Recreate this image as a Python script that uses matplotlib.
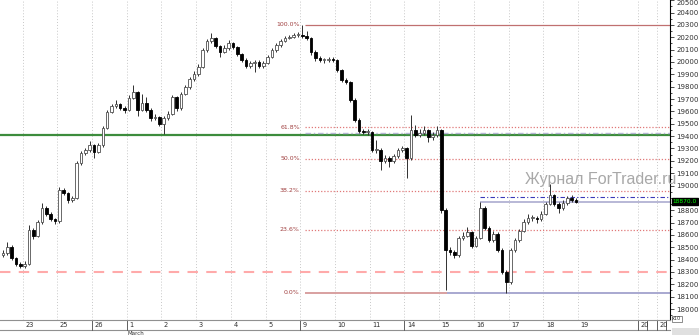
import matplotlib
matplotlib.use("Agg")
import matplotlib.pyplot as plt
from matplotlib.patches import Rectangle
from matplotlib.ticker import MultipleLocator

# candle data (open = previous close)
first_open = 18440
closes = [
    18454, 18502, 18413, 18365, 18349, 18365, 18640, 18592, 18705, 18818,
    18770, 18729, 18713, 18964, 18940, 18883, 18899, 19183, 19264, 19288,
    19328, 19272, 19328, 19466, 19596, 19644, 19660, 19628, 19612, 19709,
    19757, 19612, 19668, 19612, 19547, 19555, 19498, 19547, 19579, 19717,
    19628, 19741, 19798, 19863, 19903, 19960, 20098, 20170, 20195, 20130,
    20081, 20114, 20154, 20122, 20065, 20017, 19968, 19992, 20000, 19968,
    19992, 20041, 20098, 20138, 20170, 20195, 20203, 20219, 20219, 20211,
    20195, 20081, 20033, 20017, 20017, 20025, 20017, 19935, 19855, 19838,
    19693, 19531, 19442, 19434, 19434, 19288, 19288, 19199, 19223, 19199,
    19239, 19288, 19304, 19223, 19450, 19409, 19426, 19450, 19393, 19409,
    19450, 18802, 18478, 18462, 18438, 18575, 18592, 18624, 18511, 18575,
    18818, 18656, 18559, 18608, 18478, 18300, 18219, 18478, 18559, 18632,
    18705, 18737, 18737, 18729, 18770, 18851, 18924, 18851, 18818, 18859,
    18899, 18883, 18870]
highs = [
    18480, 18540, 18515, 18425, 18380, 18385, 18680, 18655, 18720, 18860,
    18830, 18785, 18740, 18985, 18980, 18950, 18915, 19200, 19280, 19300,
    19360, 19340, 19345, 19480, 19610, 19660, 19695, 19670, 19640, 19730,
    19815, 19765, 19740, 19720, 19625, 19580, 19565, 19560, 19600, 19735,
    19725, 19760, 19815, 19880, 19925, 19980, 20115, 20190, 20235, 20205,
    20140, 20135, 20180, 20165, 20130, 20075, 20030, 20010, 20020, 20015,
    20010, 20060, 20115, 20155, 20185, 20210, 20220, 20235, 20240, 20300,
    20250, 20205, 20095, 20045, 20035, 20040, 20040, 20025, 19945, 19870,
    19850, 19705, 19545, 19460, 19455, 19445, 19370, 19300, 19245, 19240,
    19255, 19300, 19320, 19315, 19570, 19490, 19460, 19480, 19460, 19430,
    19480, 19460, 18815, 18500, 18475, 18590, 18620, 18660, 18635, 18595,
    18870, 18830, 18670, 18630, 18620, 18490, 18315, 18495, 18575, 18650,
    18725, 18770, 18765, 18755, 18790, 18870, 19015, 18935, 18865, 18880,
    18915, 18920, 18895]
lows = [
    18425, 18440, 18400, 18345, 18330, 18330, 18355, 18570, 18580, 18690,
    18750, 18715, 18690, 18700, 18920, 18860, 18865, 18890, 19170, 19250,
    19275, 19225, 19260, 19315, 19455, 19585, 19630, 19610, 19590, 19600,
    19700, 19560, 19600, 19595, 19525, 19530, 19480, 19420, 19530, 19570,
    19600, 19615, 19730, 19785, 19850, 19890, 19950, 20085, 20155, 20110,
    20040, 20070, 20100, 20105, 20045, 20000, 19950, 19955, 19920, 19950,
    19955, 19980, 20030, 20085, 20125, 20160, 20185, 20195, 20200, 20195,
    20180, 20060, 20010, 20000, 19995, 20000, 20000, 19920, 19840, 19820,
    19680, 19515, 19425, 19415, 19410, 19270, 19265, 19125, 19180, 19150,
    19185, 19225, 19275, 19060, 19210, 19390, 19395, 19410, 19350, 19370,
    19395, 18780, 18150, 18440, 18410, 18425, 18560, 18580, 18490, 18500,
    18565, 18640, 18540, 18545, 18460, 18285, 18130, 18205, 18465, 18545,
    18620, 18690, 18715, 18700, 18715, 18760, 18840, 18830, 18780, 18805,
    18845, 18870, 18855]

day_labels = ['23', '25', '26', '1', '2', '3', '4', '5', '9', '10', '11',
              '14', '15', '16', '17', '18', '19', '20', '20']
week_start = ['26', '1', '9', '14']

fib_high = 20300
fib_low = 18130
fib_levels = [1.0, 0.618, 0.5, 0.382, 0.236, 0.0]
fib_names = ['100.0%', '61.8%', '50.0%', '38.2%', '23.6%', '0.0%']
support = 19410
red_level = 18300
last_price = 18870
blue_level = 18910
lav_level = 19425

W, H = 699, 335
fig = plt.figure(figsize=(W / 100, H / 100), dpi=100)
ax = fig.add_axes([0, 15 / H, 670 / W, 320 / H])

n = len(closes)
opens = [first_open] + closes[:-1]
for i in range(n):
    o, c = opens[i], closes[i]
    ax.vlines(i, lows[i], highs[i], color='#303030', lw=0.7, zorder=3)
    if c >= o:
        ax.add_patch(Rectangle((i - 0.3, o), 0.6, max(c - o, 4),
                               facecolor='white', edgecolor='#505050', lw=0.6, zorder=4))
    else:
        ax.add_patch(Rectangle((i - 0.3, c), 0.6, o - c,
                               facecolor='black', edgecolor='black', lw=0.6, zorder=4))

x_end = (670 - 3) / 4.34
ax.set_xlim(-3 / 4.34, x_end)
ax.set_ylim(17911, 20502)

# day grid
grid_x = [4.5 + 8 * k for k in range(17)] + [146.3, 150.7]
for gx in grid_x:
    ax.axvline(gx, color='#c8c8c8', lw=0.7, ls=(0, (1, 2)), zorder=1)

# horizontal levels
ax.axhline(support, color='#3c8c3c', lw=1.6, zorder=2)
ax.axhline(red_level, color='#ffaaaa', lw=1.5, ls=(0, (5, 4)), zorder=2)

fx0 = 69.5
for lev, name in zip(fib_levels, fib_names):
    p = fib_low + lev * (fib_high - fib_low)
    if lev == 1.0:
        ax.hlines(p, fx0, x_end, color='#c07070', lw=0.9, zorder=2)
    elif lev == 0.0:
        ax.hlines(p, fx0, 102.3, color='#d8a0a0', lw=1.4, zorder=2)
        ax.hlines(p, 102.3, x_end, color='#a8a8d0', lw=1.4, zorder=2)
    else:
        ax.hlines(p, fx0, x_end, color='#e07878', lw=0.9, ls=(0, (1, 1.5)), zorder=2)
    ax.text(68.4, p, name, ha='right', va='center', fontsize=4.5, color='#a04040')

ax.hlines(lav_level, fx0, x_end, color='#b4b4d4', lw=1.0, ls=(0, (4, 2, 1, 2)), zorder=2)
ax.hlines(blue_level, 110, x_end, color='#3838b8', lw=0.8, ls=(0, (4, 2, 1, 2)), zorder=2)
ax.hlines(last_price, 110, x_end, color='#a4a4cc', lw=1.1, zorder=2)

# watermark
ax.text(120.3, 19050, 'Журнал ForTrader.ru', fontsize=11.5, color='#a8a8a8',
        family=['Liberation Sans', 'DejaVu Sans'], ha='left', va='center',
        clip_on=False, zorder=6)

# right price axis
ticks = list(range(18000, 20501, 100))
ax.yaxis.tick_right()
ax.set_yticks(ticks)
ax.set_yticklabels(['' if t == 18900 else str(t) for t in ticks])
ax.yaxis.set_minor_locator(MultipleLocator(50))
ax.tick_params(axis='y', which='major', labelsize=5, length=3, width=0.6,
               pad=1.5, colors='#303030')
ax.tick_params(axis='y', which='minor', length=1.5, width=0.5)
ax.get_yticklabels()[-1].set_va('top')
ax.set_xticks([])
for s in ['top', 'left']:
    ax.spines[s].set_visible(False)
ax.spines['right'].set_linewidth(0.8)
ax.spines['bottom'].set_color('#909090')
ax.spines['bottom'].set_linewidth(0.8)

# current price label
ax.text(1.004, last_price, '18870.0', transform=ax.get_yaxis_transform(),
        ha='left', va='center', fontsize=4.2, color='#00ff00', clip_on=False,
        bbox=dict(boxstyle='square,pad=0.15', fc='black', ec='black'), zorder=7)

# date strip
tr = ax.get_xaxis_transform()
strip_bot = -10 / 320
ax.plot([-1, x_end], [strip_bot, strip_bot], transform=tr, color='#909090',
        lw=0.8, clip_on=False)
for gx, lab in zip(grid_x, day_labels):
    ax.text(gx + 0.6, strip_bot / 2, lab, transform=tr, ha='left', va='center',
            fontsize=4.8, color='#303030', clip_on=False)
    if lab in week_start or lab == '20':
        ax.plot([gx, gx], [0, strip_bot], transform=tr, color='#606060',
                lw=0.7, clip_on=False)
    if lab == '20':
        ax.plot([gx + 2.1, gx + 2.1], [0, strip_bot], transform=tr,
                color='#606060', lw=0.7, clip_on=False)
ax.text(grid_x[3] + 0.2, -13.5 / 320, 'March', transform=tr, ha='left',
        va='center', fontsize=4, color='#303030', clip_on=False)

fig.patches.append(Rectangle((672 / W, 0), 27 / W, 7 / H, transform=fig.transFigure,
                             fc='#e0e0e0', ec='none'))
fig.text(672 / W, 1 - 319 / H, 'x10', fontsize=3.5, color='#303030', va='center',
         bbox=dict(boxstyle='square,pad=0.1', fc='white', ec='#606060', lw=0.5))

fig.savefig('out.png', dpi=100)
